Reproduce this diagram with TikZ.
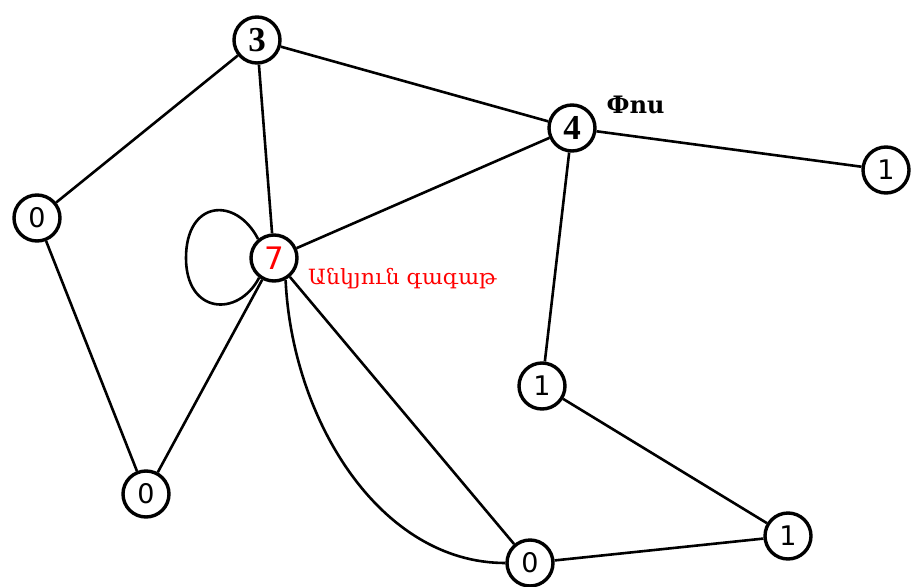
\documentclass[tikz,border=0pt]{standalone}
\usepackage{fontspec}
\setmainfont{DejaVu Sans}
\newfontfamily\armserif{DejaVu Serif}
\newfontfamily\digitserif{Liberation Serif}
\begin{document}
\begin{tikzpicture}[x=1pt,y=-1pt,
  vert/.style={circle,draw,line width=3.4pt,minimum size=46pt,inner sep=0pt,fill=white,font=\fontsize{27}{27}\selectfont},
  bigvert/.style={vert,font=\digitserif\bfseries\fontsize{35}{35}\selectfont},
  edge/.style={line width=2.6pt}]
\useasboundingbox (0,0) rectangle (915,586);
% vertices, labelled by their degree
\node[bigvert] (a) at (257,40) {3};
\node[bigvert] (b) at (572,128) {4};
\node[vert] (c) at (886,170) {1};
\node[vert] (d) at (37,218) {0};
\node[vert,text=red,font=\fontsize{31}{31}\selectfont] (e) at (274,258) {7};
\node[vert] (f) at (542,386) {1};
\node[vert] (g) at (146,494) {0};
\node[vert] (h) at (530,563) {0};
\node[vert] (i) at (788,536) {1};
% edges
\draw[edge] (a) -- (d);
\draw[edge] (a) -- (e);
\draw[edge] (a) -- (b);
\draw[edge] (b) -- (c);
\draw[edge] (b) -- (e);
\draw[edge] (b) -- (f);
\draw[edge] (d) -- (g);
\draw[edge] (e) -- (g);
\draw[edge] (e) -- (h);
\draw[edge] (e.-62) .. controls (292,420) and (380,563) .. (h.west);
\draw[edge] (f) -- (i);
\draw[edge] (h) -- (i);
% self-loop on the vertex of degree 7
\draw[edge] (e.130) .. controls (236,196) and (186,200) .. (186,258)
  .. controls (186,314) and (238,318) .. (e.-127);
% labels
\node[anchor=west,font=\armserif\bfseries\fontsize{24}{24}\selectfont] (hole) at (603,105) {Փոս};
\node[anchor=west,text=red,font=\armserif\fontsize{21}{21}\selectfont,inner sep=0pt] (corner) at (308,279) {\scalebox{1.05}[1]{Անկյուն գագաթ}};
\end{tikzpicture}
\end{document}
